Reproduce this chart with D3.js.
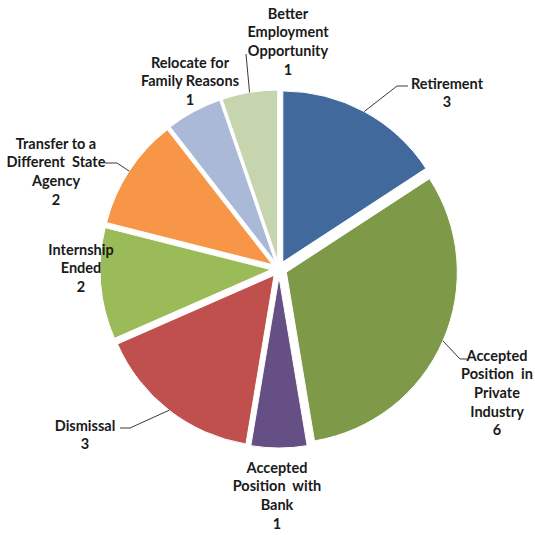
<!DOCTYPE html>
<html>
<head>
<meta charset="utf-8">
<script src="https://cdn.jsdelivr.net/npm/d3@7"></script>
<style>
  html, body { margin: 0; padding: 0; background: #fff; }
  svg { display: block; }
  .lbl { font-family: Lato, "Open Sans", sans-serif; font-weight: 700; font-size: 14.5px; fill: #1a1a1a; }
</style>
</head>
<body>
<svg id="chart" width="535" height="535"></svg>
<script>
// Reasons for separation, clockwise from 12 o'clock
const categories = [
  "Retirement",
  "Accepted Position in Private Industry",
  "Accepted Position with Bank",
  "Dismissal",
  "Internship Ended",
  "Transfer to a Different State Agency",
  "Relocate for Family Reasons",
  "Better Employment Opportunity"
];
const values = [3, 6, 1, 3, 2, 2, 1, 1];

// Label text as it wraps inside each data label
const labelLines = [
  ["Retirement"],
  ["Accepted", "Position  in", "Private", "Industry"],
  ["Accepted", "Position  with", "Bank"],
  ["Dismissal"],
  ["Internship", "Ended"],
  ["Transfer to a", "Different  State", "Agency"],
  ["Relocate for", "Family Reasons"],
  ["Better", "Employment", "Opportunity"]
];

const colors = ["#41699B", "#7E9A49", "#654F85", "#C0504D", "#9BBB59", "#F79646", "#AAB9D8", "#C6D5AD"];

// Layout: pie geometry and label placement
const cx = 279, cy = 269, R = 171, explode = 8, lineH = 18.7;
const labelLayout = {
  "Retirement":                           { x: 447, y: 83,  leader: [[397, 86], [408, 86]] },
  "Accepted Position in Private Industry":{ x: 497, y: 355, leader: [[460, 359], [467, 359]] },
  "Accepted Position with Bank":          { x: 277, y: 467, leader: null },
  "Dismissal":                            { x: 85,  y: 425, leader: [[130, 428], [120, 428]] },
  "Internship Ended":                     { x: 81,  y: 249, leader: null },
  "Transfer to a Different State Agency": { x: 56,  y: 143, leader: [[117, 163], [105, 163]] },
  "Relocate for Family Reasons":          { x: 190, y: 62,  leader: null },
  "Better Employment Opportunity":        { x: 288, y: 13,  leader: [[246, 54]] }
};

const data = categories.map((c, i) => ({ name: c, value: values[i], lines: labelLines[i], color: colors[i] }));

const svg = d3.select("#chart");
const pie = d3.pie().sort(null).value(d => d.value).startAngle(0).endAngle(2 * Math.PI);
const arc = d3.arc().innerRadius(0).outerRadius(R);
const arcs = pie(data);

const offset = d => {
  const m = (d.startAngle + d.endAngle) / 2;
  return [explode * Math.sin(m), -explode * Math.cos(m)];
};

const g = svg.append("g").attr("transform", `translate(${cx},${cy})`);

g.selectAll("path.slice")
  .data(arcs)
  .join("path")
  .attr("class", "slice")
  .attr("transform", d => `translate(${offset(d)})`)
  .attr("d", arc)
  .attr("fill", d => d.data.color)
  .attr("stroke", "#fff")
  .attr("stroke-width", 1);

// Leader lines from the slice edge to the label
const line = d3.line();
arcs.forEach(d => {
  const lay = labelLayout[d.data.name];
  if (!lay.leader) return;
  const m = (d.startAngle + d.endAngle) / 2;
  const o = offset(d);
  const start = [cx + o[0] + R * Math.sin(m), cy + o[1] - R * Math.cos(m)];
  svg.append("path")
    .attr("d", line([start, ...lay.leader]))
    .attr("fill", "none")
    .attr("stroke", "#3a3a3a")
    .attr("stroke-width", 1);
});

// Data labels: category name lines followed by the value
const labels = svg.selectAll("text.lbl")
  .data(arcs)
  .join("text")
  .attr("class", "lbl")
  .attr("text-anchor", "middle");

labels.each(function (d) {
  const lay = labelLayout[d.data.name];
  const t = d3.select(this);
  const rows = [...d.data.lines, String(d.data.value)];
  rows.forEach((r, i) => {
    t.append("tspan")
      .attr("x", lay.x)
      .attr("y", lay.y + i * lineH)
      .attr("dominant-baseline", "central")
      .attr("xml:space", "preserve")
      .style("white-space", "pre")
      .text(r);
  });
});
</script>
</body>
</html>
